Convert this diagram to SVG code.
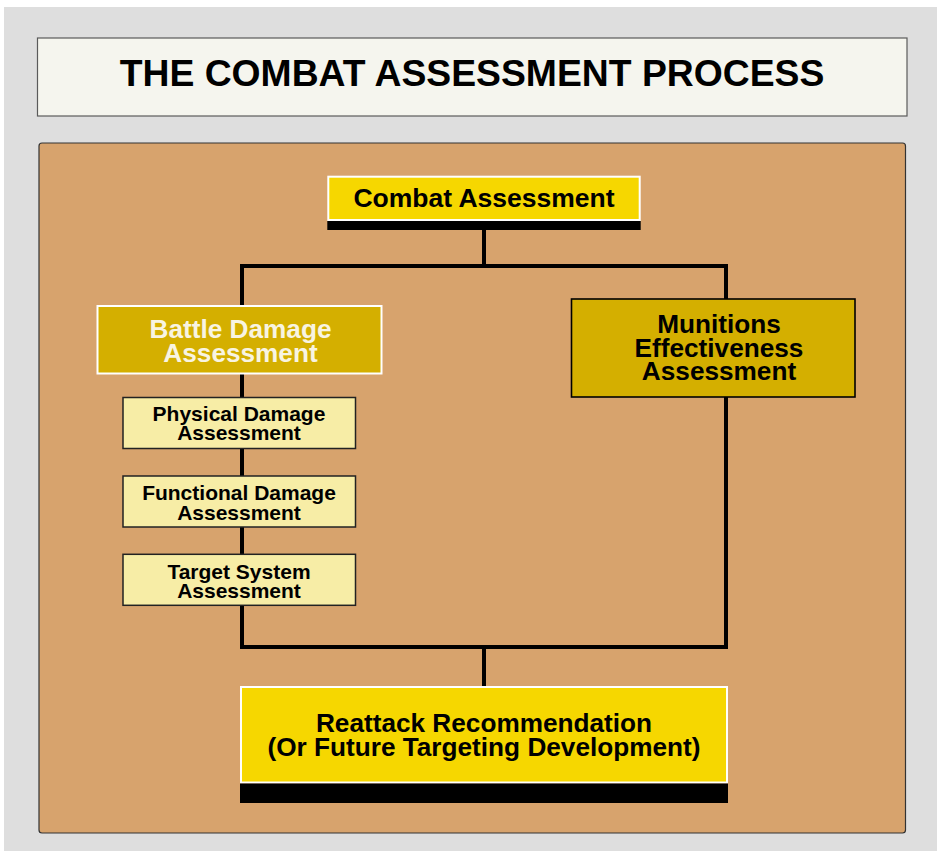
<svg xmlns="http://www.w3.org/2000/svg" width="937" height="851" viewBox="0 0 937 851">
  <style>
    text { font-family: "Liberation Sans", Arial, sans-serif; font-weight: bold; text-anchor: middle; }
    .conn { fill: none; stroke: #000; stroke-width: 4; stroke-linejoin: miter; }
    .gold { fill: #d4af00; }
    .yellow { fill: #f6d700; stroke: #ffffff; stroke-width: 2; }
    .pale { fill: #f7eda6; stroke: #222; stroke-width: 1.5; }
    .bar { fill: #000; }
  </style>
  <rect x="0" y="0" width="937" height="851" fill="#ffffff"/>
  <rect x="4" y="7" width="933" height="844" fill="#dedede"/>

  <g id="title">
    <rect x="37.5" y="38" width="869.5" height="78" fill="#f5f5ee" stroke="#5a5a5a" stroke-width="1.2"/>
    <text x="472" y="86" font-size="37.3" fill="#000">THE COMBAT ASSESSMENT PROCESS</text>
  </g>

  <g id="panel">
    <rect x="39" y="143" width="866.5" height="690" rx="3" fill="#d7a36d" stroke="#333" stroke-width="1.2"/>
  </g>

  <g id="connectors">
    <line class="conn" x1="484" y1="229" x2="484" y2="266"/>
    <polyline class="conn" points="242,306 242,266 726,266 726,299"/>
    <line class="conn" x1="242" y1="373" x2="242" y2="398"/>
    <line class="conn" x1="242" y1="448" x2="242" y2="476"/>
    <line class="conn" x1="242" y1="527" x2="242" y2="554"/>
    <polyline class="conn" points="242,605 242,647 726,647 726,397"/>
    <line class="conn" x1="484" y1="647" x2="484" y2="687"/>
  </g>

  <g id="combat-assessment">
    <rect class="yellow" x="328.3" y="176.7" width="311.4" height="43.3"/>
    <rect class="bar" x="327.3" y="221" width="313.4" height="9"/>
    <text x="484" y="207" font-size="26.5" fill="#000">Combat Assessment</text>
  </g>

  <g id="battle-damage-assessment">
    <rect class="gold" x="97.5" y="306" width="284" height="67.5" stroke="#ffffff" stroke-width="2"/>
    <text x="240.5" y="337.5" font-size="26.2" fill="#f8f4e2">Battle Damage</text>
    <text x="240.5" y="361.7" font-size="26.2" fill="#f8f4e2">Assessment</text>
  </g>

  <g id="munitions-effectiveness-assessment">
    <rect class="gold" x="571.5" y="299" width="283.5" height="98" stroke="#000" stroke-width="1.6"/>
    <text x="719" y="332.5" font-size="26.2" fill="#000">Munitions</text>
    <text x="719" y="356.5" font-size="26.2" fill="#000">Effectiveness</text>
    <text x="719" y="380" font-size="26.2" fill="#000">Assessment</text>
  </g>

  <g id="physical-damage-assessment">
    <rect class="pale" x="123" y="397.5" width="232.5" height="51"/>
    <text x="239" y="420.5" font-size="21" fill="#000">Physical Damage</text>
    <text x="239" y="440" font-size="21" fill="#000">Assessment</text>
  </g>

  <g id="functional-damage-assessment">
    <rect class="pale" x="123" y="476" width="232.5" height="51"/>
    <text x="239" y="500" font-size="21" fill="#000">Functional Damage</text>
    <text x="239" y="519.5" font-size="21" fill="#000">Assessment</text>
  </g>

  <g id="target-system-assessment">
    <rect class="pale" x="123" y="554.3" width="232.5" height="51"/>
    <text x="239" y="579" font-size="21" fill="#000">Target System</text>
    <text x="239" y="597.5" font-size="21" fill="#000">Assessment</text>
  </g>

  <g id="reattack-recommendation">
    <rect class="yellow" x="241" y="687" width="486" height="95.5"/>
    <rect class="bar" x="240" y="783.5" width="488" height="19.5"/>
    <text x="484" y="732" font-size="26.2" fill="#000">Reattack Recommendation</text>
    <text x="484" y="755.7" font-size="26.2" fill="#000">(Or Future Targeting Development)</text>
  </g>
</svg>
